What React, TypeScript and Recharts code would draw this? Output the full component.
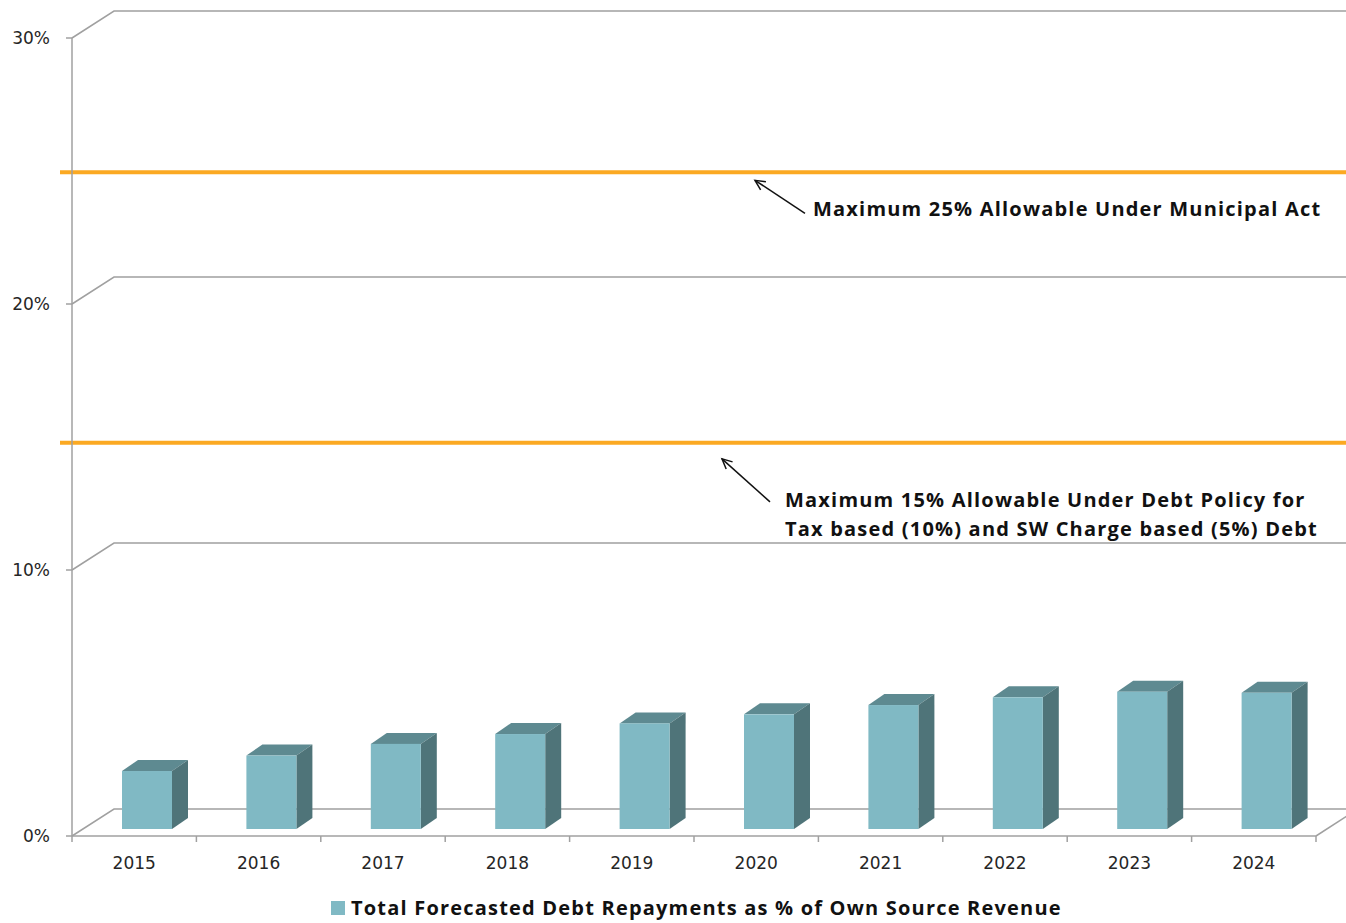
import { Bar, CartesianGrid, ComposedChart, Legend, ReferenceLine, XAxis, YAxis } from 'recharts'

const years = ['2015', '2016', '2017', '2018', '2019', '2020', '2021', '2022', '2023', '2024']
// debt repayments as % of own source revenue
const debtShare = [2.18, 2.76, 3.2, 3.57, 3.97, 4.31, 4.66, 4.95, 5.16, 5.12]
const yTicks = [0, 10, 20, 30]
// limit lines sit a touch under their nominal values in the source picture
const municipalActLimit = 24.95
const debtPolicyLimit = 14.78
const municipalActNote = ['Maximum 25% Allowable Under Municipal Act']
const debtPolicyNote = ['Maximum 15% Allowable Under Debt Policy for', 'Tax based (10%) and SW Charge based (5%) Debt']
const seriesName = 'Total Forecasted Debt Repayments as % of Own Source Revenue'

const data = years.map((year, i) => ({ year, value: debtShare[i] }))

const WIDTH = 1346
const HEIGHT = 923
const Y_AXIS_W = 72
const RIGHT_PAD = 30
const BAND = (WIDTH - Y_AXIS_W - RIGHT_PAD) / years.length

// fake 3d: wall depth and bar depth
const WALL_DX = 42
const WALL_DY = 27
const FACE_SHIFT = 13
const FACE_LIFT = 7
const SIDE_DX = 16
const SIDE_DY = 11

const TICK_FONT = "'DejaVu Sans', Verdana, sans-serif"
const BOLD_FONT = "'Open Sans', sans-serif"
const GRID = '#a0a0a0'
const ORANGE = '#fba922'

function Box3D(props: any) {
  const { x, y, width, height } = props
  if (!height) return null
  const fx = x + FACE_SHIFT
  const fy = y - FACE_LIFT
  const top = `${fx},${fy} ${fx + SIDE_DX},${fy - SIDE_DY} ${fx + width + SIDE_DX},${fy - SIDE_DY} ${fx + width},${fy}`
  const side = `${fx + width},${fy} ${fx + width + SIDE_DX},${fy - SIDE_DY} ${fx + width + SIDE_DX},${fy + height - SIDE_DY} ${fx + width},${fy + height}`
  return (
    <g>
      <polygon points={top} fill="#5e8a91" />
      <polygon points={side} fill="#4f7479" />
      <rect x={fx} y={fy} width={width} height={height} fill="#80b9c4" />
    </g>
  )
}

function wallLine(p: any) {
  return (
    <path
      key={`wall-${p.index}`}
      d={`M${p.x1},${p.y1} L${p.x1 + WALL_DX},${p.y1 - WALL_DY} L${p.x2 + WALL_DX},${p.y1 - WALL_DY}`}
      stroke={GRID}
      strokeWidth={1.5}
      fill="none"
    />
  )
}

function YearTick(props: any) {
  const { x, y, payload, index, visibleTicksCount } = props
  const axisY = y - 8
  const half = BAND / 2
  const last = index === visibleTicksCount - 1
  return (
    <g>
      {index === 0 ? <line x1={x - half} y1={axisY} x2={x - half} y2={axisY + 6} stroke={GRID} strokeWidth={1.5} /> : null}
      <line x1={x + half} y1={axisY} x2={x + half} y2={axisY + 6} stroke={GRID} strokeWidth={1.5} />
      {last ? (
        <line x1={x + half} y1={axisY} x2={x + half + WALL_DX} y2={axisY - WALL_DY} stroke={GRID} strokeWidth={1.5} />
      ) : null}
      <text x={x} y={axisY + 33} textAnchor="middle" fill="#262626" fontSize={17} fontFamily={TICK_FONT}>
        {payload.value}
      </text>
    </g>
  )
}

function limitLine(p: any) {
  return <line x1={p.x1 - 12} y1={p.y1} x2={p.x2 + 40} y2={p.y2} stroke={ORANGE} strokeWidth={4} />
}

function arrow(x1: number, y1: number, x2: number, y2: number) {
  const a = Math.atan2(y2 - y1, x2 - x1)
  const len = 11
  const spread = 0.45
  const h1 = `${x2 - len * Math.cos(a - spread)},${y2 - len * Math.sin(a - spread)}`
  const h2 = `${x2 - len * Math.cos(a + spread)},${y2 - len * Math.sin(a + spread)}`
  return (
    <g stroke="#111" strokeWidth={1.5} fill="none">
      <line x1={x1} y1={y1} x2={x2} y2={y2} />
      <polyline points={`${h1} ${x2},${y2} ${h2}`} />
    </g>
  )
}

function makeNote(lines: string[], tip: [number, number], tail: [number, number], textAt: [number, number]) {
  return (p: any) => {
    const vb = p.viewBox
    return (
      <g>
        {arrow(vb.x + tail[0], vb.y + tail[1], vb.x + tip[0], vb.y + tip[1])}
        <text
          x={vb.x + textAt[0]}
          y={vb.y + textAt[1]}
          fontSize={20}
          fontWeight={700}
          fontFamily={BOLD_FONT}
          letterSpacing={1.2}
          fill="#111"
        >
          {lines.map((line, i) => (
            <tspan key={line} x={vb.x + textAt[0]} dy={i === 0 ? 0 : 29}>
              {line}
            </tspan>
          ))}
        </text>
      </g>
    )
  }
}

function LegendContent() {
  return (
    <div style={{ height: 50, paddingLeft: 331, boxSizing: 'border-box', display: 'flex', alignItems: 'flex-end', paddingBottom: 3 }}>
      <span style={{ width: 14, height: 14, background: '#80b9c4', display: 'inline-block', marginRight: 6, marginBottom: 5 }} />
      <span style={{ fontFamily: BOLD_FONT, fontWeight: 700, fontSize: 20, letterSpacing: 1.2, color: '#111', lineHeight: '24px' }}>
        {seriesName}
      </span>
    </div>
  )
}

export default function App() {
  return (
    <div style={{ position: 'absolute', left: 0, top: 0, background: '#fff' }}>
      <ComposedChart width={WIDTH} height={HEIGHT} data={data} margin={{ top: 38, right: RIGHT_PAD, left: 0, bottom: 0 }}>
        <CartesianGrid vertical={false} horizontal={wallLine} />
        <XAxis
          dataKey="year"
          height={37}
          axisLine={{ stroke: GRID, strokeWidth: 1.5 }}
          tickLine={false}
          tickSize={6}
          tickMargin={2}
          tick={<YearTick />}
          interval={0}
        />
        <YAxis
          width={Y_AXIS_W}
          domain={[0, 30]}
          ticks={yTicks}
          tickFormatter={(v) => `${v}%`}
          axisLine={{ stroke: GRID, strokeWidth: 1.5 }}
          tickLine={{ stroke: GRID, strokeWidth: 1.5 }}
          tickSize={6}
          tickMargin={16}
          tick={{ fill: '#262626', fontSize: 17, fontFamily: TICK_FONT }}
        />
        <ReferenceLine
          y={municipalActLimit}
          ifOverflow="visible"
          shape={limitLine}
          label={makeNote(municipalActNote, [683, 8], [733, 41], [741, 44])}
        />
        <ReferenceLine
          y={debtPolicyLimit}
          ifOverflow="visible"
          shape={limitLine}
          label={makeNote(debtPolicyNote, [650, 16], [698, 59], [713, 64])}
        />
        <Bar dataKey="value" name={seriesName} barSize={50} shape={<Box3D />} isAnimationActive={false} />
        <Legend verticalAlign="bottom" height={50} wrapperStyle={{ left: 0, width: WIDTH }} content={<LegendContent />} />
      </ComposedChart>
    </div>
  )
}
